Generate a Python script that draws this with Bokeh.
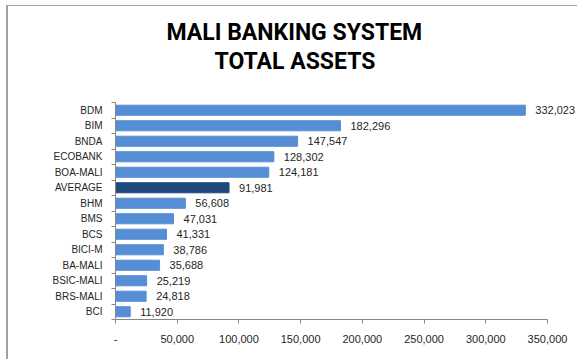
from bokeh.plotting import figure
from bokeh.models import (ColumnDataSource, Range1d, FixedTicker, NumeralTickFormatter, Title, LabelSet)
from bokeh.core.properties import value
from bokeh.embed import file_html
from bokeh.resources import INLINE

# ---- data (top to bottom) ----
banks = ["BDM", "BIM", "BNDA", "ECOBANK", "BOA-MALI", "AVERAGE", "BHM", "BMS",
         "BCS", "BICI-M", "BA-MALI", "BSIC-MALI", "BRS-MALI", "BCI"]
assets = [332023, 182296, 147547, 128302, 124181, 91981, 56608, 47031,
          41331, 38786, 35688, 25219, 24818, 11920]
x_ticks = [0, 50000, 100000, 150000, 200000, 250000, 300000, 350000]
x_max = 350000

BAR = "#558ED5"
AVG = "#1F497D"
n = len(banks)
ypos = [n - i - 0.5 for i in range(n)]
colors = [AVG if b == "AVERAGE" else BAR for b in banks]
labels = [f"{v:,}" for v in assets]

src = ColumnDataSource(dict(bank=banks, val=assets, y=ypos, color=colors, label=labels))

FONT = "Liberation Sans"
W, H = 571, 354
LEFT, AXIS_W = 107, 432          # frame left offset and width of the 0..350,000 axis
frame_w = W - LEFT               # frame extends to the right edge so value labels are not clipped
x_end = x_max * frame_w / AXIS_W

p = figure(width=W, height=H, output_backend="svg", toolbar_location=None,
           x_range=Range1d(0, x_end), y_range=Range1d(0, n),
           min_border_left=LEFT, min_border_right=0, min_border_top=96, min_border_bottom=41)
p.styles = {"margin-left": "6px", "margin-top": "5px",
            "border-left": "2px solid #a0a0a0", "border-top": "1px solid #a0a0a0"}

p.hbar(y="y", right="val", left=0, height=0.65, color="color", source=src)
p.add_layout(LabelSet(x="val", y="y", text="label", source=src, x_offset=10,
                      text_baseline="middle", text_align="left", text_font=value(FONT),
                      text_font_size="11px", text_color="#262626"))

# titles
TFONT = "Roboto"
t2 = Title(text="TOTAL ASSETS", align="left", text_font=TFONT, offset=99,
           text_font_size="23px", text_font_style="bold", text_color="#000000", standoff=55)
t1 = Title(text="MALI BANKING SYSTEM", align="left", text_font=TFONT, offset=51,
           text_font_size="23px", text_font_style="bold", text_color="#000000", standoff=-54)
p.add_layout(t2, "above")
p.add_layout(t1, "above")

p.xgrid.visible = False
p.ygrid.visible = False
p.outline_line_color = None

# x axis
xa = p.xaxis[0]
xa.bounds = (0, x_max)
xa.ticker = FixedTicker(ticks=x_ticks)
xa.formatter = NumeralTickFormatter(format="0,0")
xa.major_label_overrides = {0: "-"}
xa.axis_line_color = "#868686"
xa.major_tick_line_color = "#868686"
xa.major_tick_in = 0
xa.major_tick_out = 4
xa.minor_tick_line_color = None
xa.major_label_standoff = 11
xa.major_label_text_font = FONT
xa.major_label_text_font_size = "11px"
xa.major_label_text_color = "#262626"

# y axis (labels at centres, ticks at category boundaries)
ya = p.yaxis[0]
ya.ticker = FixedTicker(ticks=ypos, minor_ticks=list(range(n + 1)))
ya.major_label_overrides = {y: b for y, b in zip(ypos, banks)}
ya.axis_line_color = "#868686"
ya.major_tick_line_color = None
ya.minor_tick_line_color = "#868686"
ya.minor_tick_in = 0
ya.minor_tick_out = 4
ya.major_label_standoff = 7
ya.major_label_text_font = FONT
ya.major_label_text_font_size = "10px"
ya.major_label_text_color = "#262626"

open("out.html", "w").write(file_html(p, INLINE))
